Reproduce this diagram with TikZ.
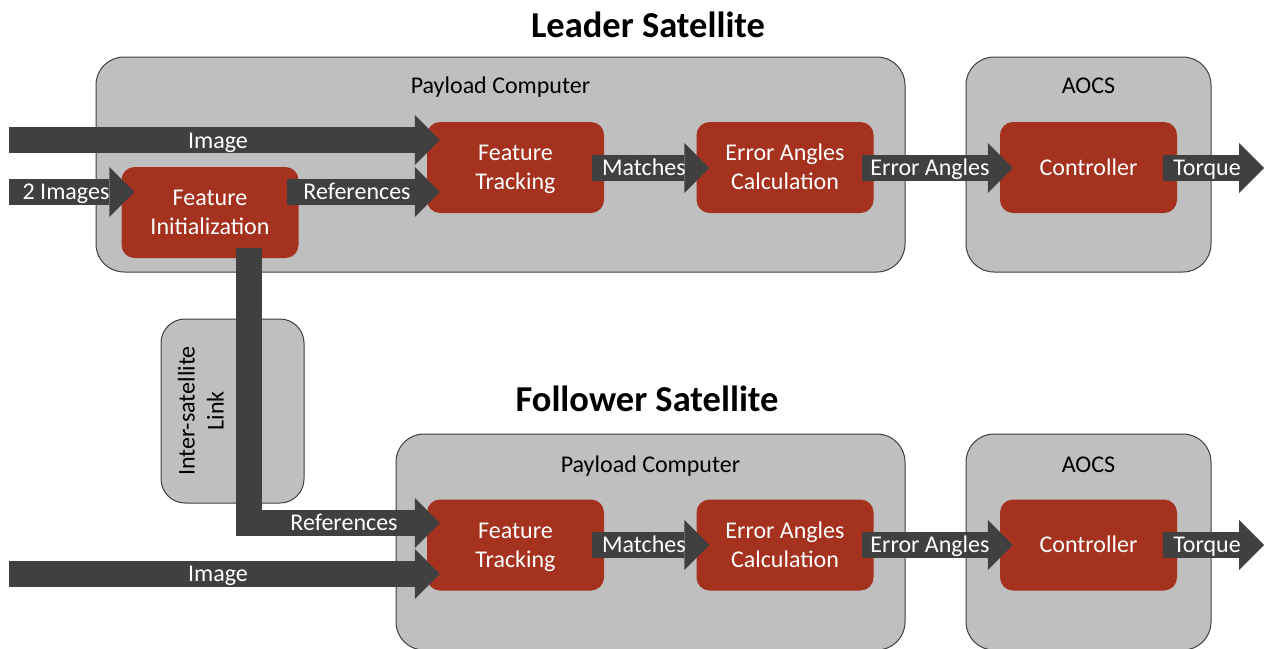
\documentclass[tikz,border=0pt]{standalone}
\usepackage{fontspec}
\setmainfont{Carlito}
\usetikzlibrary{arrows.meta,calc}
\definecolor{boxgray}{HTML}{BFBFBF}
\definecolor{edgegray}{HTML}{404040}
\definecolor{procred}{HTML}{A5321F}
\definecolor{arrowgray}{HTML}{404040}
\begin{document}
\begin{tikzpicture}[x=1pt,y=-1pt,
  gbox/.style={draw=edgegray, line width=1pt, fill=boxgray, rounded corners=28pt, inner sep=0pt},
  rbox/.style={fill=procred, rounded corners=13pt, text=white, align=center, minimum width=177pt, minimum height=91pt, inner sep=0pt, text height=44pt, text depth=0pt, font=\fontsize{24}{29}\selectfont},
  oneline/.style={text height=15pt},
  barrow/.style={draw=arrowgray, line width=26pt, -{Triangle[length=25pt,width=50pt,line width=0pt]}},
  alabel/.style={text=white, inner sep=0pt, text height=15pt, text depth=0pt, font=\fontsize{24}{29}\selectfont},
  glabel/.style={text=black, inner sep=0pt, text height=15pt, text depth=0pt, font=\fontsize{24}{29}\selectfont},
  title/.style={text=black, inner sep=0pt, text height=22pt, text depth=0pt, font=\fontsize{36.5}{43}\selectfont\bfseries}]
\useasboundingbox (0,0) rectangle (1266,648);
\clip (0,0) rectangle (1266,648);

% titles
\node[title] (tlead) at (648,26) {Leader Satellite};
\node[title] (tfoll) at (647,400) {Follower Satellite};

% leader containers
\node[gbox, minimum width=809pt, minimum height=215pt] (lpc) at (500.5,164.5) {};
\node[gbox, minimum width=245pt, minimum height=215pt] (lao) at (1088.5,164.5) {};
\node[glabel] (lpct) at (500.5,86) {Payload Computer};
\node[glabel] (laot) at (1088.5,86) {AOCS};

% follower containers
\node[gbox, minimum width=509pt, minimum height=216pt] (fpc) at (650.5,542) {};
\node[gbox, minimum width=245pt, minimum height=216pt] (fao) at (1088.5,542) {};
\node[glabel] (fpct) at (650.5,464.5) {Payload Computer};
\node[glabel] (faot) at (1088.5,464.5) {AOCS};

% inter-satellite link
\node[gbox, rounded corners=24pt, minimum width=143pt, minimum height=184pt] (isl) at (232.5,411) {};
\node[glabel, rotate=90, align=center, text height=44pt] (islt) at (201.5,411) {Inter-satellite\\Link};

% leader process boxes
\node[rbox] (lfi) at (210,212.5) {Feature\\Initialization};
\node[rbox] (lft) at (515.5,167.5) {Feature\\Tracking};
\node[rbox] (lec) at (785,167.5) {Error Angles\\Calculation};
\node[rbox, oneline] (lctl) at (1088.5,167.5) {Controller};

% follower process boxes
\node[rbox] (fft) at (515.5,545) {Feature\\Tracking};
\node[rbox] (fec) at (785,545) {Error Angles\\Calculation};
\node[rbox, oneline] (fctl) at (1088.5,545) {Controller};

% free ends
\coordinate (limg) at (9,140);
\coordinate (l2img) at (9,192);
\coordinate (ltq) at (1264,168);
\coordinate (fimg) at (9,574);
\coordinate (ftq) at (1264,545);

% leader arrows
\draw[barrow] (limg) -- ($(limg -| lft.west)+(13,0)$);
\draw[barrow] (l2img) -- ($(l2img -| lfi.west)+(13,0)$);
\draw[barrow] ($(lfi.east)+(-12,-20.5)$) -- ($(lft.west)+(13,24.5)$);
\draw[barrow] ($(lft.east)+(-12,0.5)$) -- ($(lec.west)+(13,0.5)$);
\draw[barrow] ($(lec.east)+(-12,0.5)$) -- ($(lctl.west)+(13,0.5)$);
\draw[barrow] ($(lctl.east)+(-14,0.5)$) -- (ltq);

% link arrow
\draw[barrow] ($(lfi.south)+(38.5,-10)$) |- ($(fft.west)+(13,-22)$);

% follower arrows
\draw[barrow] (fimg) -- ($(fimg -| fft.west)+(13,0)$);
\draw[barrow] ($(fft.east)+(-12,0)$) -- ($(fec.west)+(13,0)$);
\draw[barrow] ($(fec.east)+(-12,0)$) -- ($(fctl.west)+(13,0)$);
\draw[barrow] ($(fctl.east)+(-14,0)$) -- (ftq);

% arrow labels
\node[alabel] (limgl) at (218,140.5) {Image};
\node[alabel] (l2imgl) at (66,192) {2 Images};
\node[alabel] (lrefl) at (357,192) {References};
\node[alabel] (lmatl) at (644,168) {Matches};
\node[alabel] (lerrl) at (930,168) {Error Angles};
\node[alabel] (ltql) at (1207,168) {Torque};
\node[alabel] (frefl) at (344,523) {References};
\node[alabel] (fimgl) at (218,574) {Image};
\node[alabel] (fmatl) at (644,545) {Matches};
\node[alabel] (ferrl) at (930,545) {Error Angles};
\node[alabel] (ftql) at (1207,545) {Torque};
\end{tikzpicture}
\end{document}
